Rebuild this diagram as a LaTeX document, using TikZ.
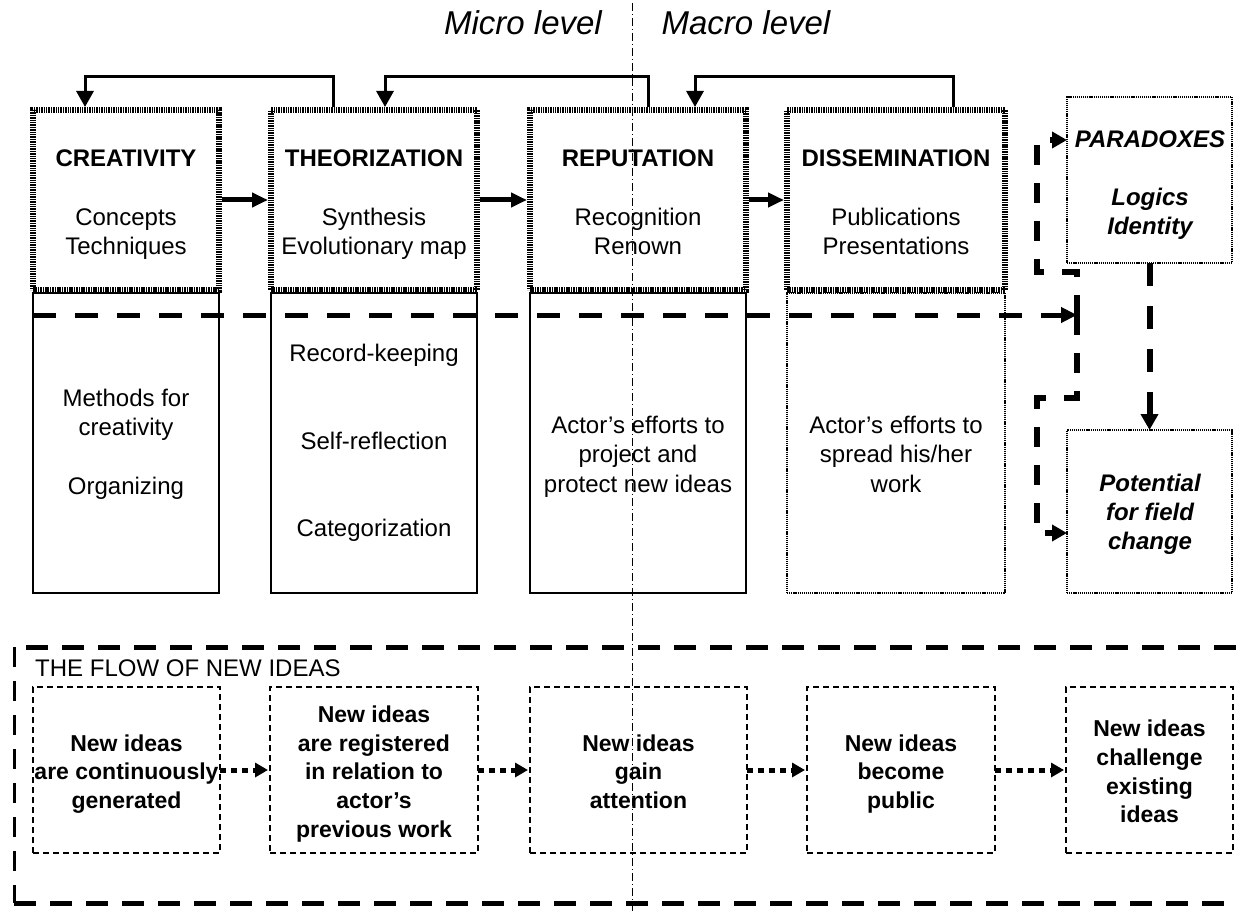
\documentclass[tikz,border=0pt]{standalone}
\usepackage{fontspec}
\setmainfont{Liberation Sans}
\usetikzlibrary{arrows.meta}
\begin{document}
\begin{tikzpicture}[x=1pt,y=-1pt,
  hatchbox/.style={draw, line width=6pt, dash pattern=on 1.5pt off 0.9pt, inner sep=0pt, outer sep=3pt, minimum height=180pt},
  lowbox/.style={draw, line width=1.5pt, inner sep=0pt, outer sep=0pt, minimum height=300pt},
  dotbox/.style={draw, line width=1.5pt, dash pattern=on 1.2pt off 0.9pt, inner sep=0pt, outer sep=0pt},
  flowbox/.style={draw, line width=1.3pt, dash pattern=on 6pt off 4pt, inner sep=0pt, outer sep=0pt, minimum height=166pt},
  txt/.style={align=center, inner sep=0pt, font=\fontsize{24}{29.5}\selectfont},
  flowtxt/.style={align=center, inner sep=0pt, font=\bfseries\fontsize{23}{28.7}\selectfont},
  fb/.style={line width=3pt, -{Triangle[length=16pt,width=17pt]}},
  harrow/.style={line width=5pt, -{Triangle[length=16pt,width=14pt]}},
  bigdash/.style={line width=5pt, dash pattern=on 23pt off 19pt, -{Triangle[length=16pt,width=15pt]}},
  rdash/.style={line width=6pt, dash pattern=on 20pt off 18pt, -{Triangle[length=15pt,width=16pt]}},
  vdash/.style={line width=6pt, dash pattern=on 23pt off 20pt, -{Triangle[length=16pt,width=17pt]}},
  flowarrow/.style={line width=5pt, dash pattern=on 6pt off 5pt, -{Triangle[length=13pt,width=14pt]}, shorten >=2pt},
  framedash/.style={line width=5pt, dash pattern=on 22pt off 14pt},
  frameside/.style={line width=3pt, dash pattern=on 20pt off 14pt},
  dashdot/.style={line width=1pt, dash pattern=on 8pt off 3pt on 1pt off 3pt}
]
\useasboundingbox[fill=white] (0,0) rectangle (1236,920);

% divider
\draw[dashdot] (632,3) -- (632,913);

% level labels
\node[anchor=base, inner sep=0pt, font=\itshape\fontsize{33}{40}\selectfont] (micro) at (523,35) {Micro level};
\node[anchor=base, inner sep=0pt, font=\itshape\fontsize{33}{40}\selectfont] (macro) at (746,35) {Macro level};

% lower boxes
\node[lowbox, minimum width=186pt] (crelow) at (126,443) {};
\node[lowbox, minimum width=206pt] (theolow) at (374,443) {};
\node[lowbox, minimum width=216pt] (replow) at (638,443) {};
\node[dotbox, minimum width=218pt, minimum height=300pt] (disslow) at (896,443) {};

% top hatched boxes
\node[hatchbox, minimum width=186pt] (cre) at (126,200) {};
\node[hatchbox, minimum width=206pt] (theo) at (374,200) {};
\node[hatchbox, minimum width=216pt] (rep) at (638,200) {};
\node[hatchbox, minimum width=218pt] (diss) at (896,200) {};

\node[txt] (creT) at (126,205) {\strut\textbf{CREATIVITY}\\[29pt]Concepts\\Techniques\strut};
\node[txt] (theoT) at (374,205) {\strut\textbf{THEORIZATION}\\[29pt]Synthesis\\Evolutionary map\strut};
\node[txt] (repT) at (638,205) {\strut\textbf{REPUTATION}\\[29pt]Recognition\\Renown\strut};
\node[txt] (dissT) at (896,205) {\strut\textbf{DISSEMINATION}\\[29pt]Publications\\Presentations\strut};

\node[txt] (creL) at (126,444.5) {\strut Methods for\\creativity\\[29pt]Organizing\strut};
\node[txt] (theoL) at (374,443.5) {\strut Record-keeping\\[58pt]Self-reflection\\[58pt]Categorization\strut};
\node[txt] (repL) at (638,457) {\strut Actor’s efforts to\\project  and\\protect new ideas\strut};
\node[txt] (dissL) at (896,457) {\strut Actor’s efforts to\\spread his/her\\work\strut};

% right boxes
\node[dotbox, minimum width=165pt, minimum height=166pt] (para) at (1149.5,180) {};
\node[dotbox, minimum width=165pt, minimum height=163pt] (pot) at (1149.5,511.5) {};
\node[txt, font=\bfseries\itshape\fontsize{24}{29}\selectfont] (paraT) at (1150,185.5) {\strut PARADOXES\\[29pt]Logics\\Identity\strut};
\node[txt, font=\bfseries\itshape\fontsize{24}{29}\selectfont] (potT) at (1150,515) {\strut Potential\\for field\\change\strut};

% feedback arrows on top
\coordinate (f1a) at (333,77); \coordinate (f1b) at (85,77);
\coordinate (f2a) at (648,77); \coordinate (f2b) at (385,77);
\coordinate (f3a) at (953,77); \coordinate (f3b) at (695,77);
\draw[fb] (theo.north -| f1a) -- (f1a) -- (f1b) -- (cre.north -| f1b);
\draw[fb] (rep.north -| f2a) -- (f2a) -- (f2b) -- (theo.north -| f2b);
\draw[fb] (diss.north -| f3a) -- (f3a) -- (f3b) -- (rep.north -| f3b);

% forward arrows
\draw[harrow] (cre.east) -- (theo.west);
\draw[harrow] (theo.east) -- (rep.west);
\draw[harrow] (rep.east) -- (diss.west);

% long dashed arrow and bent paths
\coordinate (j) at (1077,315);
\draw[bigdash] (crelow.west |- j) -- (j);
\coordinate (r1) at (1037,140);
\coordinate (r2) at (1037,272);
\coordinate (r3) at (1077,272);
\coordinate (r4) at (1077,398);
\coordinate (r5) at (1037,398);
\coordinate (r6) at (1037,533);
\draw[rdash] (j) -- (r3) -- (r2) -- (r1) -- (para.west |- r1);
\draw[rdash] (j) -- (r4) -- (r5) -- (r6) -- (pot.west |- r6);
\draw[vdash] (para.south) -- (pot.north);

% flow frame
\draw[framedash] (1236,647) -- (14,647);
\draw[framedash] (14,903) -- (1236,903);
\draw[frameside] (14,647) -- (14,903);
\node[anchor=west, inner sep=0pt, font=\fontsize{24}{29}\selectfont] (flowlbl) at (35,668) {THE FLOW OF NEW IDEAS};

\node[flowbox, minimum width=187pt] (n1) at (126.5,770) {};
\node[flowbox, minimum width=208pt] (n2) at (374,770) {};
\node[flowbox, minimum width=217pt] (n3) at (638.5,770) {};
\node[flowbox, minimum width=188pt] (n4) at (901,770) {};
\node[flowbox, minimum width=167pt] (n5) at (1149.5,770) {};
\node[flowtxt] (n1t) at ([yshift=-4pt]n1.center) {\strut New ideas\\are continuously\\generated\strut};
\node[flowtxt] (n2t) at ([yshift=-4pt]n2.center) {\strut New ideas\\are registered\\in relation to\\actor’s\\previous work\strut};
\node[flowtxt] (n3t) at ([yshift=-4pt]n3.center) {\strut New ideas\\gain\\attention\strut};
\node[flowtxt] (n4t) at ([yshift=-4pt]n4.center) {\strut New ideas\\become\\public\strut};
\node[flowtxt] (n5t) at ([yshift=-4pt]n5.center) {\strut New ideas\\challenge\\existing\\ideas\strut};

\draw[flowarrow] (n1.east) -- (n2.west);
\draw[flowarrow] (n2.east) -- (n3.west);
\draw[flowarrow] (n3.east) -- (n4.west);
\draw[flowarrow] (n4.east) -- (n5.west);
\end{tikzpicture}
\end{document}
